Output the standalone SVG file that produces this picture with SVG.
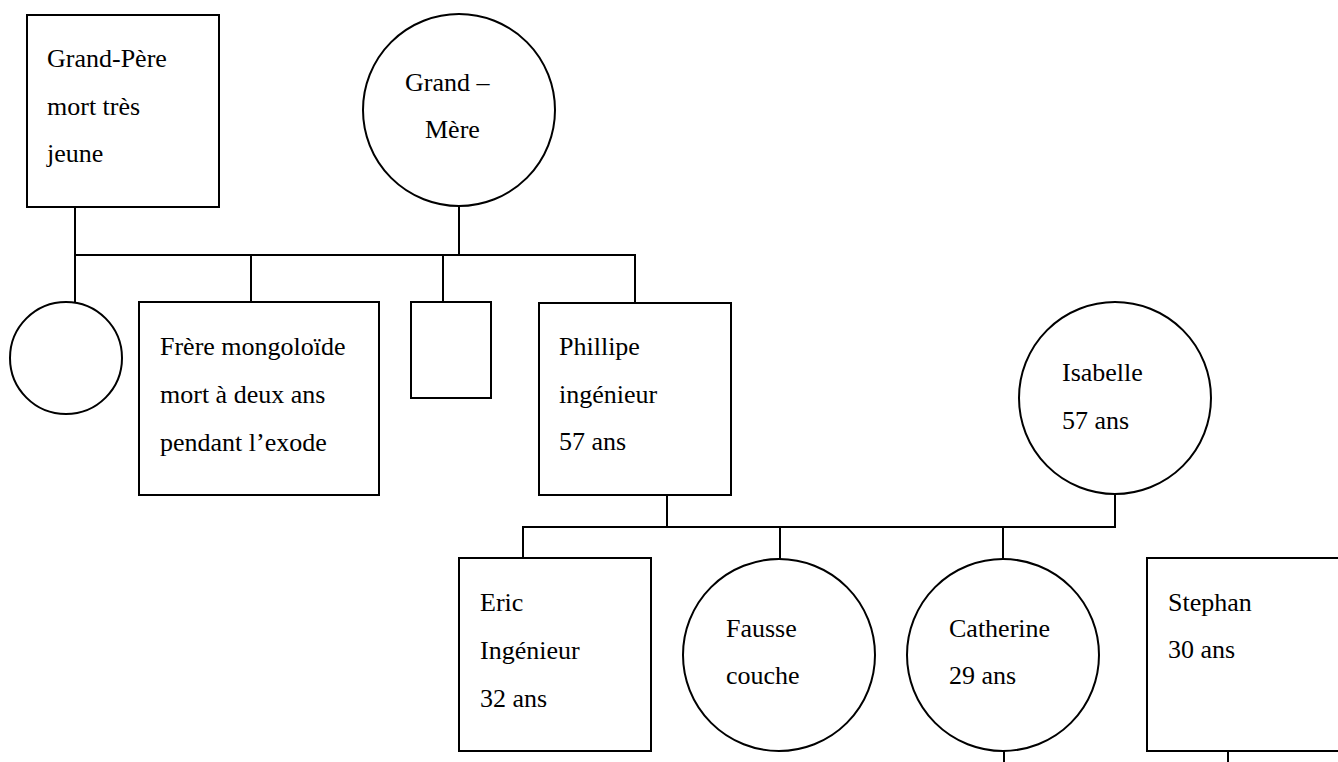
<svg xmlns="http://www.w3.org/2000/svg" width="1338" height="762" viewBox="0 0 1338 762">
<style>
.shape{fill:#fff;stroke:#000;stroke-width:2}
.conn line{stroke:#000;stroke-width:2}
text{font-family:"Liberation Serif","Times New Roman",serif;font-size:26px;fill:#000}
</style>
<rect width="1338" height="762" fill="#fff"/>
<g id="connectors" class="conn">
<line x1="75" y1="207" x2="75" y2="302"/>
<line x1="459" y1="206" x2="459" y2="255"/>
<line x1="74" y1="255" x2="636" y2="255"/>
<line x1="251" y1="255" x2="251" y2="302"/>
<line x1="443" y1="255" x2="443" y2="302"/>
<line x1="635" y1="254" x2="635" y2="303"/>
<line x1="667" y1="495" x2="667" y2="527"/>
<line x1="1115" y1="494" x2="1115" y2="528"/>
<line x1="522" y1="527" x2="1116" y2="527"/>
<line x1="523" y1="527" x2="523" y2="558"/>
<line x1="780" y1="527" x2="780" y2="559"/>
<line x1="1003" y1="527" x2="1003" y2="559"/>
<line x1="1004" y1="751" x2="1004" y2="762"/>
<line x1="1228" y1="751" x2="1228" y2="762"/>
</g>
<g id="grand-pere">
<rect class="shape" x="27" y="15" width="192" height="192"/>
<text x="47" y="67">Grand-Père</text>
<text x="47" y="115">mort très</text>
<text x="47" y="162">jeune</text>
</g>
<g id="grand-mere">
<circle class="shape" cx="459" cy="110" r="96"/>
<text x="405" y="91">Grand –</text>
<text x="425" y="138">Mère</text>
</g>
<g id="soeur">
<circle class="shape" cx="66" cy="358" r="56"/>
</g>
<g id="frere">
<rect class="shape" x="139" y="302" width="240" height="193"/>
<text x="160" y="355">Frère mongoloïde</text>
<text x="160" y="403">mort à deux ans</text>
<text x="160" y="451">pendant l’exode</text>
</g>
<g id="frere2">
<rect class="shape" x="411" y="302" width="80" height="96"/>
</g>
<g id="phillipe">
<rect class="shape" x="539" y="303" width="192" height="192"/>
<text x="559" y="355">Phillipe</text>
<text x="559" y="403">ingénieur</text>
<text x="559" y="450">57 ans</text>
</g>
<g id="isabelle">
<circle class="shape" cx="1115" cy="398" r="96"/>
<text x="1062" y="381">Isabelle</text>
<text x="1062" y="429">57 ans</text>
</g>
<g id="eric">
<rect class="shape" x="459" y="558" width="192" height="193"/>
<text x="480" y="611">Eric</text>
<text x="480" y="659">Ingénieur</text>
<text x="480" y="707">32 ans</text>
</g>
<g id="fausse-couche">
<circle class="shape" cx="779" cy="655" r="96"/>
<text x="726" y="637">Fausse</text>
<text x="726" y="684">couche</text>
</g>
<g id="catherine">
<circle class="shape" cx="1003" cy="655" r="96"/>
<text x="949" y="637">Catherine</text>
<text x="949" y="684">29 ans</text>
</g>
<g id="stephan">
<rect class="shape" x="1147" y="558" width="200" height="193"/>
<text x="1168" y="611">Stephan</text>
<text x="1168" y="658">30 ans</text>
</g>
</svg>
